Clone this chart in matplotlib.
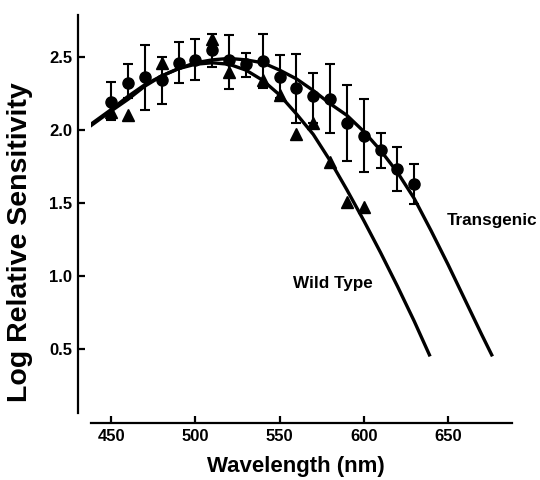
import matplotlib.pyplot as plt

plt.rcParams['font.family'] = ['Liberation Sans', 'DejaVu Sans']
plt.rcParams['font.weight'] = 'bold'

# transgenic animals: mean log sensitivity with error bar limits
tg_wl = [450, 460, 470, 480, 490, 500, 510, 520, 530, 540, 550, 560, 570, 580, 590, 600, 610, 620, 630]
tg_val = [2.19, 2.32, 2.36, 2.34, 2.46, 2.48, 2.55, 2.48, 2.45, 2.47, 2.36, 2.29, 2.23, 2.21, 2.05, 1.96, 1.86, 1.73, 1.63]
tg_hi = [2.33, 2.45, 2.58, 2.50, 2.60, 2.62, 2.66, 2.65, 2.53, 2.66, 2.51, 2.52, 2.39, 2.45, 2.31, 2.21, 1.98, 1.88, 1.77]
tg_lo = [2.07, 2.22, 2.14, 2.18, 2.32, 2.34, 2.43, 2.28, 2.36, 2.29, 2.22, 2.05, 2.05, 1.98, 1.79, 1.71, 1.74, 1.58, 1.49]

# wild type animals
wt_wl = [450, 460, 480, 510, 520, 540, 550, 560, 570, 580, 590, 600]
wt_val = [2.12, 2.10, 2.46, 2.62, 2.40, 2.34, 2.24, 1.97, 2.05, 1.78, 1.51, 1.47]

# fitted template curves
tg_fit_wl = [438, 450, 460, 470, 480, 490, 500, 510, 520, 530, 540, 550, 560, 570, 580, 590, 600, 610, 620, 630, 640, 650, 660, 670, 676]
tg_fit = [2.03, 2.13, 2.21, 2.30, 2.37, 2.42, 2.46, 2.48, 2.49, 2.48, 2.46, 2.41, 2.35, 2.27, 2.18, 2.10, 1.99, 1.86, 1.71, 1.53, 1.31, 1.08, 0.84, 0.60, 0.46]
wt_fit_wl = [438, 450, 460, 470, 480, 490, 500, 510, 520, 530, 540, 550, 560, 570, 580, 590, 600, 610, 620, 630, 639]
wt_fit = [2.04, 2.14, 2.23, 2.31, 2.37, 2.42, 2.45, 2.46, 2.45, 2.41, 2.34, 2.24, 2.11, 1.97, 1.79, 1.59, 1.38, 1.16, 0.93, 0.69, 0.46]

fig = plt.figure(figsize=(5.4, 4.8), dpi=100)
ax = fig.add_axes([0.1685, 0.1396, 0.7795, 0.8294])

ax.plot(tg_fit_wl, tg_fit, color='black', lw=2.4, zorder=2)
ax.plot(wt_fit_wl, wt_fit, color='black', lw=2.4, zorder=2)

ax.plot(wt_wl, wt_val, '^', color='black', ms=8.5, zorder=3)

yerr = [[v - lo for v, lo in zip(tg_val, tg_lo)], [hi - v for v, hi in zip(tg_val, tg_hi)]]
ax.errorbar(tg_wl, tg_val, yerr=yerr, fmt='o', color='black', ms=8,
            elinewidth=1.5, capsize=3.6, capthick=1.5, zorder=4)

ax.text(649, 1.38, 'Transgenic', fontsize=12.3, fontweight='bold', va='center', ha='left')
ax.text(558, 0.95, 'Wild Type', fontsize=12.3, fontweight='bold', va='center', ha='left')

ax.set_xlim(438, 688)
ax.set_ylim(0.062, 2.788)
ax.set_xticks([450, 500, 550, 600, 650])
ax.set_yticks([0.5, 1.0, 1.5, 2.0, 2.5])
ax.set_yticklabels(['0.5', '1.0', '1.5', '2.0', '2.5'])

for side in ['top', 'right']:
    ax.spines[side].set_visible(False)
ax.spines['left'].set_position(('outward', 9.4))
ax.spines['bottom'].set_position(('outward', 7.2))
ax.spines['left'].set_linewidth(1.6)
ax.spines['bottom'].set_linewidth(1.6)
ax.tick_params(direction='in', length=5, width=1.6, labelsize=12, pad=4)

ax.set_xlabel('Wavelength (nm)', fontsize=16, fontweight='bold')
ax.set_ylabel('Log Relative Sensitivity', fontsize=20.5, fontweight='bold')
ax.xaxis.set_label_coords(0.487, -0.108)
ax.yaxis.set_label_coords(-0.138, 0.43)

fig.savefig('out.png', dpi=100)
